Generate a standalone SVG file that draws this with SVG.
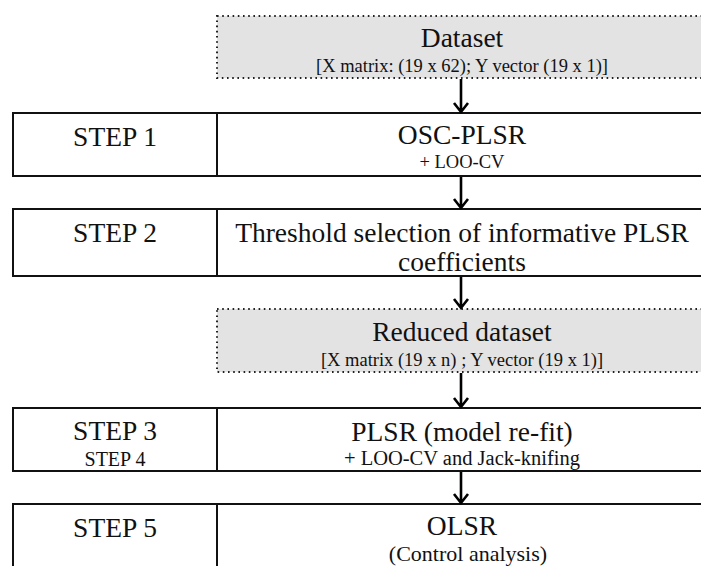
<svg xmlns="http://www.w3.org/2000/svg" width="701" height="566" viewBox="0 0 701 566">
<style>
.box{fill:#ffffff;stroke:#111;stroke-width:2}
.dot{fill:#e3e3e3;stroke:#222;stroke-width:2;stroke-dasharray:1.6 3.6}
.div{stroke:#111;stroke-width:2}
.t{font-family:"Liberation Serif","Times New Roman",serif;fill:#111;text-anchor:middle}
.h{font-size:27.5px}
.s{font-size:18.5px}
.arr{stroke:#000;stroke-width:2.6;fill:none}
</style>
<rect width="701" height="566" fill="#ffffff"/>
<g id="dataset">
<rect class="dot" x="217" y="16" width="500" height="62"/>
<text class="t h" x="462" y="47">Dataset</text>
<text class="t s" x="462" y="72">[X matrix: (19 x 62); Y vector (19 x 1)]</text>
</g>
<g id="step1">
<rect class="box" x="13" y="113" width="700" height="63"/>
<line class="div" x1="217" y1="113" x2="217" y2="176"/>
<text class="t h" x="115" y="146">STEP 1</text>
<text class="t h" x="462" y="144">OSC-PLSR</text>
<text class="t s" x="462" y="168">+ LOO-CV</text>
</g>
<g id="step2">
<rect class="box" x="13" y="209" width="700" height="67"/>
<line class="div" x1="217" y1="209" x2="217" y2="276"/>
<text class="t h" x="115" y="242">STEP 2</text>
<text class="t h" x="462" y="242">Threshold selection of informative PLSR</text>
<text class="t h" x="462" y="271">coefficients</text>
</g>
<g id="reduced">
<rect class="dot" x="217" y="309" width="500" height="63"/>
<text class="t h" x="462" y="341">Reduced dataset</text>
<text class="t s" x="462" y="366">[X matrix (19 x n) ; Y vector (19 x 1)]</text>
</g>
<g id="step3">
<rect class="box" x="13" y="408" width="700" height="63"/>
<line class="div" x1="217" y1="408" x2="217" y2="471"/>
<text class="t h" x="115" y="440">STEP 3</text>
<text class="t" x="115" y="466" font-size="20">STEP 4</text>
<text class="t h" x="462" y="441">PLSR (model re-fit)</text>
<text class="t" x="462" y="465" font-size="20.5">+ LOO-CV and Jack-knifing</text>
</g>
<g id="step5">
<rect class="box" x="13" y="504" width="700" height="80"/>
<line class="div" x1="217" y1="504" x2="217" y2="584"/>
<text class="t h" x="115" y="537">STEP 5</text>
<text class="t h" x="462" y="535">OLSR</text>
<text class="t" x="468" y="561" font-size="22">(Control analysis)</text>
</g>
<g id="connectors">
<path class="arr" d="M461 79V112M454 103L461 112L468 103"/>
<path class="arr" d="M461 177V208M454 199L461 208L468 199"/>
<path class="arr" d="M461 277V308M454 299L461 308L468 299"/>
<path class="arr" d="M461 373V407M454 398L461 407L468 398"/>
<path class="arr" d="M461 472V503M454 494L461 503L468 494"/>
</g>
</svg>
